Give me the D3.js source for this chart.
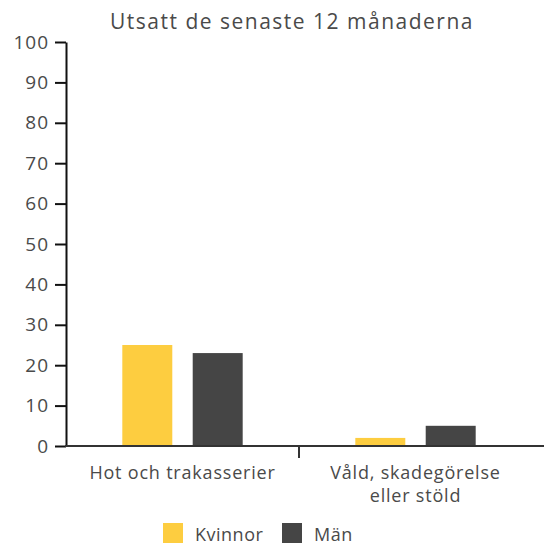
<!DOCTYPE html>
<html>
<head>
<meta charset="utf-8">
<script src="https://cdn.jsdelivr.net/npm/d3@7"></script>
<style>
  body { margin: 0; background: #fff; }
  svg text { font-family: "Open Sans", "Noto Sans", sans-serif; fill: #4a4a4a; }
</style>
</head>
<body>
<div id="chart"></div>
<script>
// data
var categories = ['Hot och trakasserier', 'Våld, skadegörelse\neller stöld'];
var seriesNames = ['Kvinnor', 'Män'];
var kvinnor = [25, 2];
var man = [23, 5];
var yTicks = [0, 10, 20, 30, 40, 50, 60, 70, 80, 90, 100];
var colors = ['#fdcd40', '#454545'];

var width = 544, height = 545;
var margin = {left: 66, right: 12, top: 42, bottom: 99};

var svg = d3.select('#chart').append('svg')
    .attr('width', width)
    .attr('height', height);

var x = d3.scaleBand()
    .domain(categories)
    .range([margin.left, width - margin.right]);

var inner = d3.scaleBand()
    .domain(seriesNames)
    .range([0, x.bandwidth()])
    .paddingInner(0.29)
    .paddingOuter(0.8);

var y = d3.scaleLinear()
    .domain([0, 100])
    .range([height - margin.bottom, margin.top]);

// title
svg.append('text')
    .attr('x', 292)
    .attr('y', 29)
    .attr('text-anchor', 'middle')
    .style('font-size', '21px')
    .style('letter-spacing', '1.5px')
    .text('Utsatt de senaste 12 månaderna');

// bars
var values = [kvinnor, man];
seriesNames.forEach(function(s, si) {
    svg.append('g').selectAll('rect')
        .data(categories)
        .enter().append('rect')
        .attr('x', function(d) { return x(d) + inner(s); })
        .attr('width', inner.bandwidth())
        .attr('y', function(d, i) { return y(values[si][i]); })
        .attr('height', function(d, i) { return y(0) - y(values[si][i]); })
        .attr('fill', colors[si]);
});

// y axis
var yAxis = svg.append('g')
    .attr('transform', 'translate(' + margin.left + ',0)')
    .call(d3.axisLeft(y).tickValues(yTicks).tickSize(11).tickPadding(6).tickSizeOuter(0));
yAxis.select('.domain').attr('stroke', '#111').attr('stroke-width', 2);
yAxis.selectAll('.tick line').attr('stroke', '#111').attr('stroke-width', 2);
yAxis.selectAll('.tick text')
    .style('font-size', '19px')
    .style('letter-spacing', '1px')
    .attr('fill', '#4a4a4a');

// x axis line and separator tick
svg.append('line')
    .attr('x1', margin.left - 1).attr('x2', width)
    .attr('y1', y(0)).attr('y2', y(0))
    .attr('stroke', '#333').attr('stroke-width', 2);
svg.append('line')
    .attr('x1', x(categories[1])).attr('x2', x(categories[1]))
    .attr('y1', y(0)).attr('y2', y(0) + 12)
    .attr('stroke', '#333').attr('stroke-width', 2);

// x labels
categories.forEach(function(c) {
    var lines = c.split('\n');
    var t = svg.append('text')
        .attr('text-anchor', 'middle')
        .style('font-size', '18px')
        .style('letter-spacing', '0.8px');
    lines.forEach(function(l, i) {
        t.append('tspan')
            .attr('x', x(c) + x.bandwidth() / 2)
            .attr('y', 479 + i * 23)
            .text(l);
    });
});

// legend
var legendX = [163, 282];
seriesNames.forEach(function(s, i) {
    svg.append('rect')
        .attr('x', legendX[i]).attr('y', 523)
        .attr('width', 20).attr('height', 20)
        .attr('fill', colors[i]);
    svg.append('text')
        .attr('x', legendX[i] + 32).attr('y', 541)
        .style('font-size', '18px')
        .style('letter-spacing', '0.5px')
        .text(s);
});
</script>
</body>
</html>
